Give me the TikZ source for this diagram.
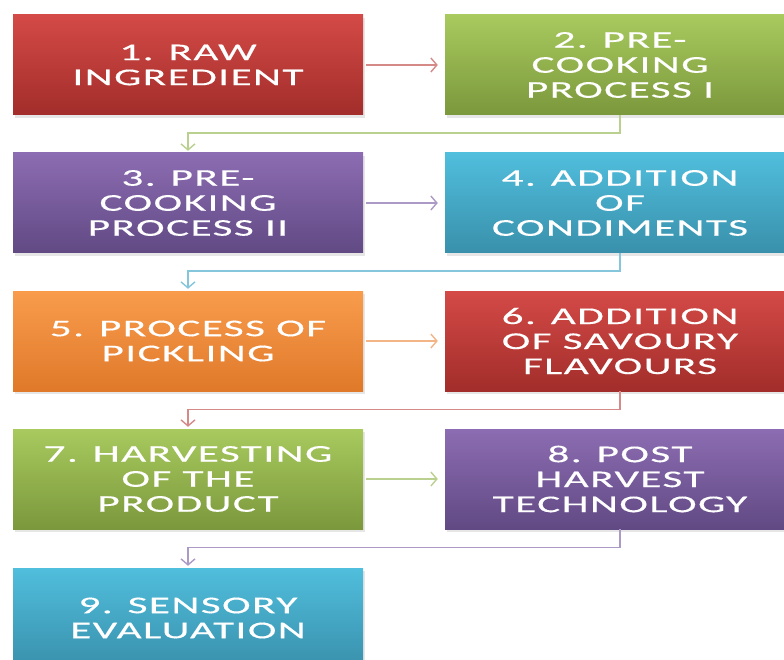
\documentclass[tikz,border=0pt]{standalone}
\usepackage{fontspec}
\newfontfamily\boxfont[FakeStretch=1.8,LetterSpace=6,FakeBold=0.4]{Carlito}
\usetikzlibrary{arrows.meta,shadows}
\definecolor{redT}{HTML}{D44A47}
\definecolor{redB}{HTML}{A22D2A}
\definecolor{grnT}{HTML}{A8CA5E}
\definecolor{grnB}{HTML}{7B983C}
\definecolor{purT}{HTML}{8C6CB2}
\definecolor{purB}{HTML}{614A84}
\definecolor{bluT}{HTML}{50BEDD}
\definecolor{bluB}{HTML}{3990AB}
\definecolor{orgT}{HTML}{F89C4C}
\definecolor{orgB}{HTML}{E0792A}
\definecolor{redL}{HTML}{D58A88}
\definecolor{grnL}{HTML}{B9D08E}
\definecolor{purL}{HTML}{AC9AC6}
\definecolor{bluL}{HTML}{86C6DC}
\definecolor{orgL}{HTML}{F3B585}
\begin{document}
\begin{tikzpicture}[x=1pt,y=-1pt,
  box/.style={rectangle, minimum width=350pt, minimum height=100pt, inner sep=0pt,
    align=center, text=white, font=\boxfont\fontsize{24}{25}\selectfont,
    drop shadow={opacity=0.2,shadow xshift=2pt,shadow yshift=-3pt}},
  redbox/.style={box, top color=redT, bottom color=redB},
  grnbox/.style={box, top color=grnT, bottom color=grnB},
  purbox/.style={box, top color=purT, bottom color=purB},
  blubox/.style={box, top color=bluT, bottom color=bluB},
  orgbox/.style={box, top color=orgT, bottom color=orgB},
  conn/.style={line width=1.4pt, -{Straight Barb[length=6pt,width=14pt,line width=1.4pt]}, shorten <=3pt, shorten >=7pt},
  elbow/.style={line width=1.4pt, -{Straight Barb[length=6pt,width=14pt,line width=1.4pt]}, shorten >=2pt}]
\useasboundingbox (0,0) rectangle (784,660);
\clip (0,0) rectangle (784,660);
\node[redbox] (n1) at (188,65) {1. RAW\\INGREDIENT};
\node[grnbox] (n2) at (620,65) {2. PRE-\\COOKING\\PROCESS I};
\node[purbox] (n3) at (188,203) {3. PRE-\\COOKING\\PROCESS II};
\node[blubox] (n4) at (620,203) {4. ADDITION\\OF\\CONDIMENTS};
\node[orgbox] (n5) at (188,341) {5. PROCESS OF\\PICKLING};
\node[redbox] (n6) at (620,341) {6. ADDITION\\OF SAVOURY\\FLAVOURS};
\node[grnbox] (n7) at (188,479) {7. HARVESTING\\OF THE\\PRODUCT};
\node[purbox] (n8) at (620,479) {8. POST\\HARVEST\\TECHNOLOGY};
\node[blubox] (n9) at (188,618) {9. SENSORY\\EVALUATION};
\draw[conn, redL] (n1) -- (n2);
\draw[conn, purL] (n3) -- (n4);
\draw[conn, orgL] (n5) -- (n6);
\draw[conn, grnL] (n7) -- (n8);
\draw[elbow, grnL] (n2.south) -- ++(0,18) -| (n3.north);
\draw[elbow, bluL] (n4.south) -- ++(0,18) -| (n5.north);
\draw[elbow, redL] (n6.south) -- ++(0,18) -| (n7.north);
\draw[elbow, purL] (n8.south) -- ++(0,18) -| (n9.north);
\end{tikzpicture}
\end{document}
